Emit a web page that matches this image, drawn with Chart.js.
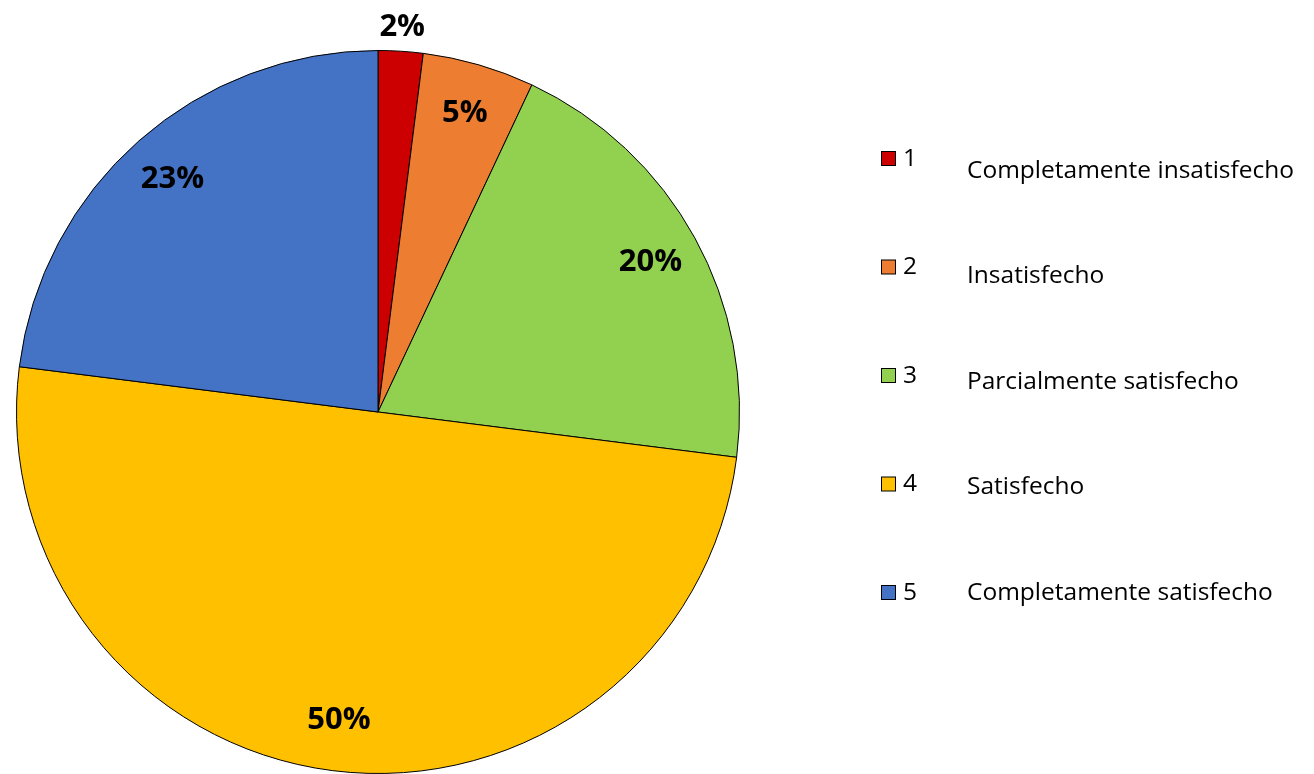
<!DOCTYPE html>
<html>
<head>
<meta charset="utf-8">
<script src="https://cdn.jsdelivr.net/npm/chart.js@4"></script>
<style>
  html, body { margin: 0; padding: 0; background: #fff; }
  #wrap { width: 1314px; height: 774px; position: relative; }
</style>
</head>
<body>
<div id="wrap"><canvas id="pie"></canvas></div>
<script>
// datos
const categories = ['1', '2', '3', '4', '5'];
const descriptions = [
  'Completamente insatisfecho',
  'Insatisfecho',
  'Parcialmente satisfecho',
  'Satisfecho',
  'Completamente satisfecho'
];
const values = [2, 5, 20, 50, 23];
const colors = ['#CC0000', '#ED7D31', '#92D050', '#FFC000', '#4472C4'];

const FONT = '"Open Sans", "Liberation Sans", Arial, sans-serif';

// etiquetas de porcentaje sobre cada sector
const pctLabels = {
  id: 'pctLabels',
  afterDatasetsDraw(chart) {
    const ctx = chart.ctx;
    const total = values.reduce((a, b) => a + b, 0);
    ctx.save();
    ctx.font = 'bold 31px ' + FONT;
    ctx.fillStyle = '#000';
    ctx.textAlign = 'center';
    ctx.textBaseline = 'middle';
    chart.getDatasetMeta(0).data.forEach((arc, i) => {
      const mid = (arc.startAngle + arc.endAngle) / 2;
      const pct = values[i] / total * 100;
      // sectores pequeños: etiqueta fuera
      const r = pct < 3 ? arc.outerRadius + 24 : arc.outerRadius * 0.86;
      const x = arc.x + Math.cos(mid) * r;
      const y = arc.y + Math.sin(mid) * r;
      ctx.fillText(Math.round(pct) + '%', x, y);
    });
    ctx.restore();
  }
};

// leyenda con dos columnas (número + descripción)
const sideLegend = {
  id: 'sideLegend',
  afterDraw(chart) {
    const ctx = chart.ctx;
    ctx.save();
    ctx.textBaseline = 'middle';
    ctx.textAlign = 'left';
    categories.forEach((c, i) => {
      const yNum = 159 + i * 108.5;
      const yDesc = 171 + i * 105.5;
      ctx.fillStyle = colors[i];
      ctx.fillRect(881.5, yNum - 7.5, 14, 14);
      ctx.strokeStyle = '#000';
      ctx.lineWidth = 1;
      ctx.strokeRect(881.5, yNum - 7.5, 14, 14);
      ctx.fillStyle = '#000';
      ctx.font = '24.5px ' + FONT;
      ctx.fillText(c, 903, yNum);
      ctx.fillText(descriptions[i], 967, yDesc);
    });
    ctx.restore();
  }
};

new Chart(document.getElementById('pie'), {
  type: 'pie',
  data: {
    labels: categories,
    datasets: [{
      data: values,
      backgroundColor: colors,
      borderColor: '#000',
      borderWidth: 1
    }]
  },
  options: {
    responsive: true,
    maintainAspectRatio: false,
    animation: false,
    layout: { padding: { left: 16, right: 574, top: 50, bottom: 0 } },
    plugins: {
      legend: { display: false },
      tooltip: { enabled: false }
    }
  },
  plugins: [pctLabels, sideLegend]
});
</script>
</body>
</html>
